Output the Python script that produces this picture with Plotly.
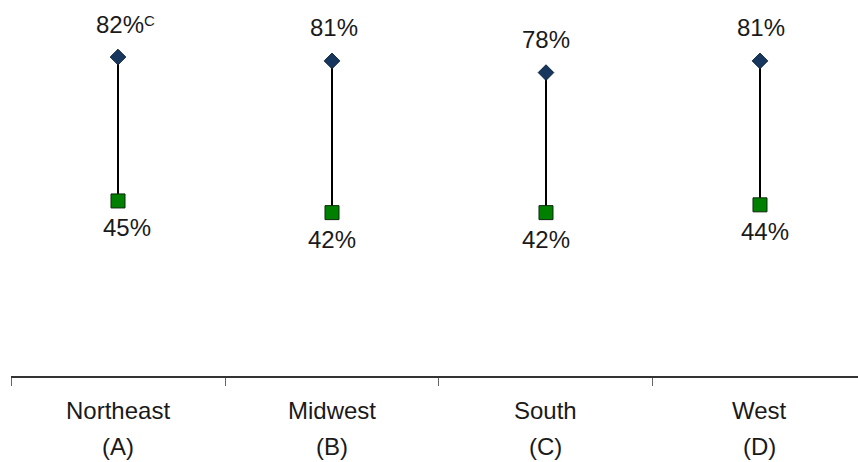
import plotly.graph_objects as go

# Regional comparison: upper (diamond) and lower (square) percentages
regions = ["Northeast", "Midwest", "South", "West"]
region_codes = ["(A)", "(B)", "(C)", "(D)"]
upper_vals = [82, 81, 78, 81]
lower_vals = [45, 42, 42, 44]
upper_notes = ["C", "", "", ""]

FONT = "Liberation Sans, Arial, sans-serif"
TEXT_COLOR = "#1a1a1a"
LABEL_SIZE = 24

# small horizontal nudges for the value labels (pixels)
upper_nudge = [2, 2, 0, 1]
lower_nudge = [9, 0, 0, 5]

fig = go.Figure()

# Vertical connectors between the two values of each region
line_x, line_y = [], []
for r, lo, hi in zip(regions, lower_vals, upper_vals):
    line_x += [r, r, None]
    line_y += [lo, hi, None]
fig.add_trace(go.Scatter(
    x=line_x, y=line_y, mode="lines",
    line=dict(color="black", width=2), hoverinfo="skip", showlegend=False,
))

fig.add_trace(go.Scatter(
    x=regions, y=lower_vals, mode="markers",
    marker=dict(symbol="square", size=14, color="#008000",
                line=dict(color="#0b2a0b", width=1)),
    showlegend=False,
))
fig.add_trace(go.Scatter(
    x=regions, y=upper_vals, mode="markers",
    marker=dict(symbol="diamond", size=12, color="#17375e",
                line=dict(color="#0e2440", width=1)),
    showlegend=False,
))

annotations = []
for r, hi, lo, note, un, ln in zip(regions, upper_vals, lower_vals,
                                   upper_notes, upper_nudge, lower_nudge):
    annotations.append(dict(
        x=r, y=hi, xref="x", yref="y", text=f"{hi}%", showarrow=False,
        yanchor="middle", yshift=33, xshift=un,
        font=dict(family=FONT, size=LABEL_SIZE, color=TEXT_COLOR),
    ))
    if note:
        # superscript note letter to the right of the value
        annotations.append(dict(
            x=r, y=hi, xref="x", yref="y", text=note, showarrow=False,
            xanchor="left", yanchor="middle", yshift=37, xshift=un + 22,
            font=dict(family=FONT, size=15, color=TEXT_COLOR),
        ))
    annotations.append(dict(
        x=r, y=lo, xref="x", yref="y", text=f"{lo}%", showarrow=False,
        yanchor="middle", yshift=-27, xshift=ln,
        font=dict(family=FONT, size=LABEL_SIZE, color=TEXT_COLOR),
    ))

# Category labels below the axis, two lines each
for r, code in zip(regions, region_codes):
    annotations.append(dict(
        x=r, y=0, xref="x", yref="paper", text=r, showarrow=False,
        yanchor="middle", yshift=-34,
        font=dict(family=FONT, size=LABEL_SIZE, color=TEXT_COLOR),
    ))
    annotations.append(dict(
        x=r, y=0, xref="x", yref="paper", text=code, showarrow=False,
        yanchor="middle", yshift=-70,
        font=dict(family=FONT, size=LABEL_SIZE, color=TEXT_COLOR),
    ))

fig.update_layout(
    width=858, height=462,
    margin=dict(l=11, r=0, t=0, b=86),
    paper_bgcolor="white", plot_bgcolor="white",
    annotations=annotations,
    xaxis=dict(
        type="category", categoryorder="array", categoryarray=regions,
        range=[-0.5, 3.458], tickson="boundaries",
        ticks="outside", ticklen=8, tickcolor="#666666", tickwidth=1,
        showticklabels=False, showgrid=False, zeroline=False,
        showline=True, linecolor="#333333", linewidth=1.5,
    ),
    yaxis=dict(
        range=[0, 96.66], visible=False, showgrid=False, zeroline=False,
    ),
)

fig.write_html("out.html")
